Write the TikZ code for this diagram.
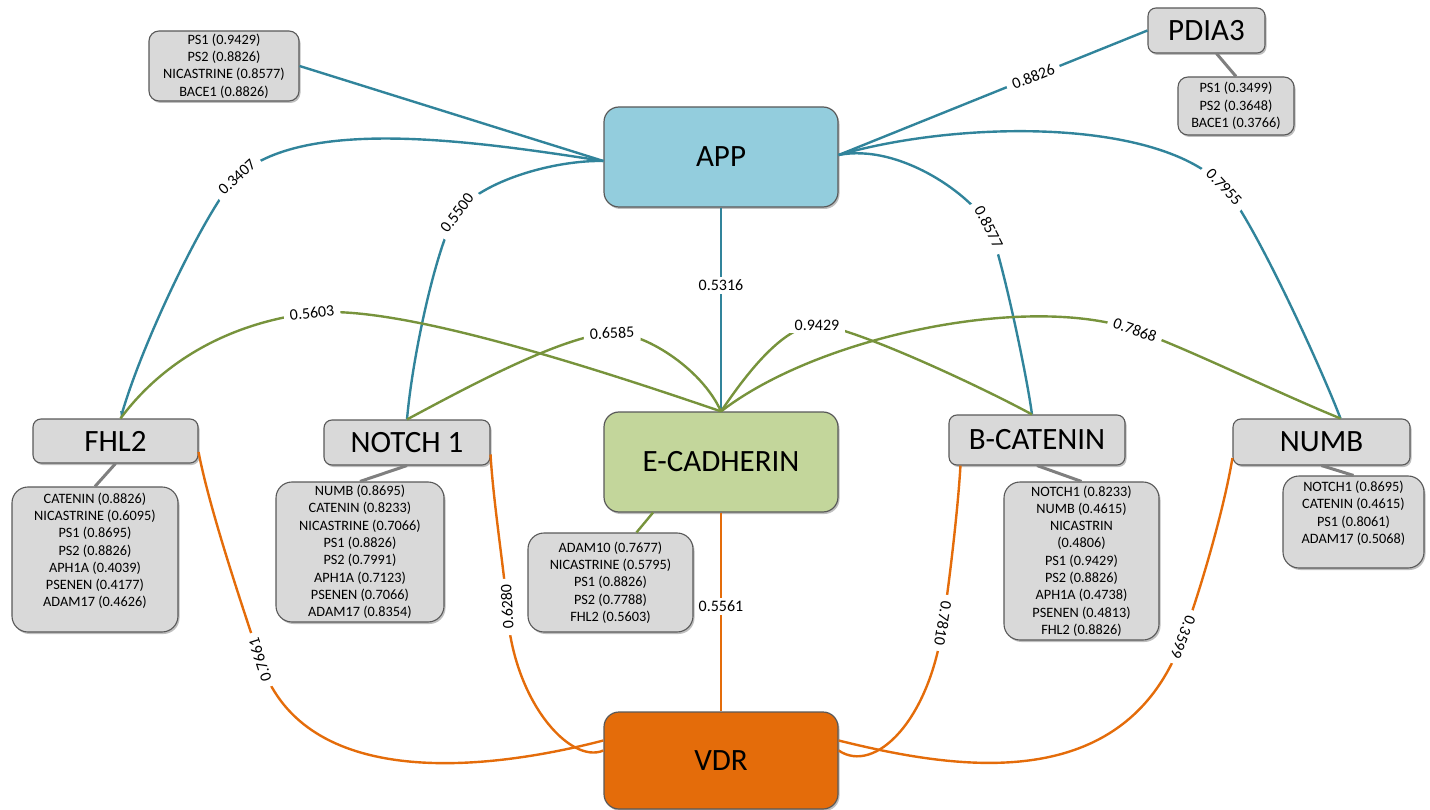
\documentclass[tikz,border=0pt]{standalone}
\usepackage{fontspec}
\setmainfont{Carlito}
\usetikzlibrary{arrows.meta}
\usetikzlibrary{shadows}

\definecolor{appblue}{HTML}{93CDDD}
\definecolor{cadgreen}{HTML}{C3D69B}
\definecolor{vdrorange}{HTML}{E46C0A}
\definecolor{boxgray}{HTML}{D9D9D9}
\definecolor{boxline}{HTML}{595959}
\definecolor{appline}{HTML}{31849B}
\definecolor{cadline}{HTML}{77933C}
\definecolor{vdrline}{HTML}{E46C0A}
\definecolor{linkgray}{HTML}{7F7F7F}

\newcommand{\hubfont}{\fontsize{31}{37}\selectfont}
\newcommand{\infofont}{\fontsize{14.3}{17.3}\selectfont}
\newcommand{\weightfont}{\fontsize{16}{19}\selectfont}

\begin{document}
\begin{tikzpicture}[x=1pt,y=-1pt,
      boxshadow/.style = {drop shadow={shadow xshift=1.5pt,shadow yshift=-2pt,
         fill=black,opacity=0.25}},
      hub/.style = {draw=boxline,line width=1.2pt,rounded corners=15pt,
         minimum width=234pt,minimum height=100pt,inner sep=0pt,
         font=\hubfont,boxshadow},
      gene/.style = {draw=boxline,line width=1.1pt,fill=boxgray,
         rounded corners=8pt,inner sep=0pt,font=\hubfont,boxshadow},
      infobox/.style = {draw=boxline,line width=1.1pt,fill=boxgray,
         rounded corners=16pt,inner sep=0pt,align=center,font=\infofont,
         boxshadow},
      appedge/.style = {draw=appline,line width=2.4pt},
      cadedge/.style = {draw=cadline,line width=2.4pt},
      vdredge/.style = {draw=vdrline,line width=2.4pt},
      infolink/.style = {draw=linkgray,line width=3pt},
      weight/.style = {fill=white,inner xsep=4pt,inner ysep=3pt,
         font=\weightfont},
      slopedweight/.style = {weight,inner xsep=6pt,sloped,allow upside down}
]
   \useasboundingbox (0,0) rectangle (1430,810);

   % hubs
   \node[hub,fill=appblue]   (app)  at (721,157)   {APP};
   \node[hub,fill=cadgreen]  (ecad) at (721,462)   {E-CADHERIN};
   \node[hub,fill=vdrorange,minimum height=97pt] (vdr) at (721,760.5) {VDR};

   % partner genes
   \node[gene,minimum width=117pt,minimum height=45pt] (pdia3) at (1206.5,30.5) {PDIA3};
   \node[gene,minimum width=165pt,minimum height=44pt] (fhl2)  at (115.5,441)   {FHL2};
   \node[gene,minimum width=166pt,minimum height=45pt] (notch) at (407,442.5)   {NOTCH 1};
   \node[gene,minimum width=176pt,minimum height=50pt] (bcat)  at (1037,440)    {B-CATENIN};
   \node[gene,minimum width=177pt,minimum height=46pt] (numb)  at (1321.5,442)  {NUMB};

   % score lists
   \node[infobox,rounded corners=10pt,minimum width=150pt,minimum height=70pt]
      (appinfo) at (224,66)
      {PS1 (0.9429)\\PS2 (0.8826)\\NICASTRINE (0.8577)\\BACE1 (0.8826)};
   \node[infobox,rounded corners=10pt,minimum width=116pt,minimum height=58pt]
      (pdiainfo) at (1236,106)
      {PS1 (0.3499)\\PS2 (0.3648)\\BACE1 (0.3766)};
   \node[infobox,minimum width=166pt,minimum height=145pt] (fhlinfo) at (95,559.5)
      {CATENIN (0.8826)\\NICASTRINE (0.6095)\\PS1 (0.8695)\\PS2 (0.8826)\\
       APH1A (0.4039)\\PSENEN (0.4177)\\ADAM17 (0.4626)\\[2pt]\mbox{}};
   \node[infobox,minimum width=168pt,minimum height=140pt] (notchinfo) at (360,552)
      {NUMB (0.8695)\\CATENIN (0.8233)\\NICASTRINE (0.7066)\\PS1 (0.8826)\\
       PS2 (0.7991)\\APH1A (0.7123)\\PSENEN (0.7066)\\ADAM17 (0.8354)};
   \node[infobox,minimum width=165pt,minimum height=99pt] (ecadinfo) at (610.5,582.5)
      {ADAM10 (0.7677)\\NICASTRINE (0.5795)\\PS1 (0.8826)\\PS2 (0.7788)\\
       FHL2 (0.5603)};
   \node[infobox,minimum width=155pt,minimum height=158pt] (bcatinfo) at (1081.5,561)
      {NOTCH1 (0.8233)\\NUMB (0.4615)\\NICASTRIN\\(0.4806)\\PS1 (0.9429)\\
       PS2 (0.8826)\\APH1A (0.4738)\\PSENEN (0.4813)\\FHL2 (0.8826)};
   \node[infobox,minimum width=141pt,minimum height=92pt] (numbinfo) at (1353.5,522)
      {NOTCH1 (0.8695)\\CATENIN (0.4615)\\PS1 (0.8061)\\ADAM17 (0.5068)\\[2pt]\mbox{}};

   % end points on the box borders
   \coordinate (appL)   at ([yshift=-4pt]app.west);
   \coordinate (appR)   at ([yshift=2pt]app.east);
   \coordinate (vdrL1)  at ([yshift=20pt]vdr.west);
   \coordinate (vdrL2)  at ([yshift=10pt]vdr.west);
   \coordinate (vdrR1)  at ([yshift=20pt]vdr.east);
   \coordinate (vdrR2)  at ([yshift=10pt]vdr.east);
   \coordinate (fhlT)   at ([xshift=5pt]fhl2.north);
   \coordinate (fhlR)   at ([yshift=-11pt]fhl2.east);
   \coordinate (notchR) at ([yshift=-12pt]notch.east);
   \coordinate (bcatT)  at ([xshift=-5pt]bcat.north);
   \coordinate (bcatB)  at ([xshift=12pt]bcat.south west);
   \coordinate (numbT)  at ([xshift=19pt]numb.north);
   \coordinate (numbL)  at ([yshift=-16pt]numb.west);

   % APP
   \draw[appedge] (appinfo.east) -- (appL);
   \draw[appedge,{Latex[length=7pt,width=5pt]}-] (fhlT)
      .. controls (145,335) and (211,201) .. (237,177) node[slopedweight,pos=1] {0.3407}
      .. controls (303,116) and (474,141) .. (appL);
   \draw[appedge] (notch.north)
      .. controls (413,350) and (439,237) .. (457,213) node[slopedweight,pos=1] {0.5500}
      .. controls (481,181) and (554,160) .. (appL);
   \draw[appedge] (app.south) -- node[weight,pos=0.38] {0.5316} (ecad.north);
   \draw[appedge] (appR)
      .. controls (900,143) and (973,196) .. (989,227) node[slopedweight,pos=1] {0.8577}
      .. controls (1000,250) and (1026,370) .. (bcatT);
   \draw[appedge] (appR)
      .. controls (960,120) and (1160,118) .. (1224,187) node[slopedweight,pos=1] {0.7955}
      .. controls (1251,216) and (1318,360) .. (numbT);
   \draw[appedge] (appR) -- node[slopedweight,pos=0.63] {0.8826} (pdia3.west);

   % E-CADHERIN
   \draw[cadedge] (fhlT)
      .. controls (170,352) and (243,321) .. (312,313) node[slopedweight,pos=1] {0.5603}
      .. controls (391,304) and (571,360) .. (ecad.north);
   \draw[cadedge] (notch.north)
      .. controls (464,389) and (562,335.5) .. (612,333) node[slopedweight,pos=1] {0.6585}
      .. controls (642,331.5) and (701,367) .. (ecad.north);
   \draw[cadedge] (ecad.north)
      .. controls (743,379) and (782,325) .. (817,325) node[slopedweight,pos=1] {0.9429}
      .. controls (847,325) and (972,382) .. (bcatT);
   \draw[cadedge] (ecad.north)
      .. controls (820,335) and (1030,293) .. (1135,330) node[slopedweight,pos=1] {0.7868}
      .. controls (1182,346) and (1280,394) .. (numbT);

   % VDR
   \draw[vdredge] (vdrL1)
      .. controls (470,775) and (300,785) .. (260,660) node[slopedweight,pos=1] {0.7661}
      .. controls (246,617) and (210,512) .. (fhlR);
   \draw[vdredge] (vdrL2)
      .. controls (570,765) and (512,700) .. (507,607) node[slopedweight,pos=1] {0.6280}
      .. controls (505,577) and (493,500) .. (notchR);
   \draw[vdredge] (ecad.south) -- node[weight,pos=0.47] {0.5561} (vdr.north);
   \draw[vdredge] (bcatB)
      .. controls (958,510) and (948,593) .. (943,623) node[slopedweight,pos=1] {0.7810}
      .. controls (930,720) and (875,775) .. (vdrR2);
   \draw[vdredge] (numbL)
      .. controls (1222,520) and (1194,609) .. (1183,637) node[slopedweight,pos=1] {0.3599}
      .. controls (1125,800) and (950,768) .. (vdrR1);

   % lists to genes
   \draw[infolink] (fhl2.south) -- (fhlinfo.north);
   \draw[infolink] (notch.south) -- (notchinfo.north);
   \draw[infolink,draw=cadline,line width=2.4pt] ([xshift=-68pt]ecad.south) -- ([xshift=26pt]ecadinfo.north);
   \draw[infolink] (bcat.south) -- (bcatinfo.north);
   \draw[infolink] (numb.south) -- (numbinfo.north);
   \draw[infolink] ([xshift=10pt]pdia3.south) -- (pdiainfo.north);
\end{tikzpicture}
\end{document}
